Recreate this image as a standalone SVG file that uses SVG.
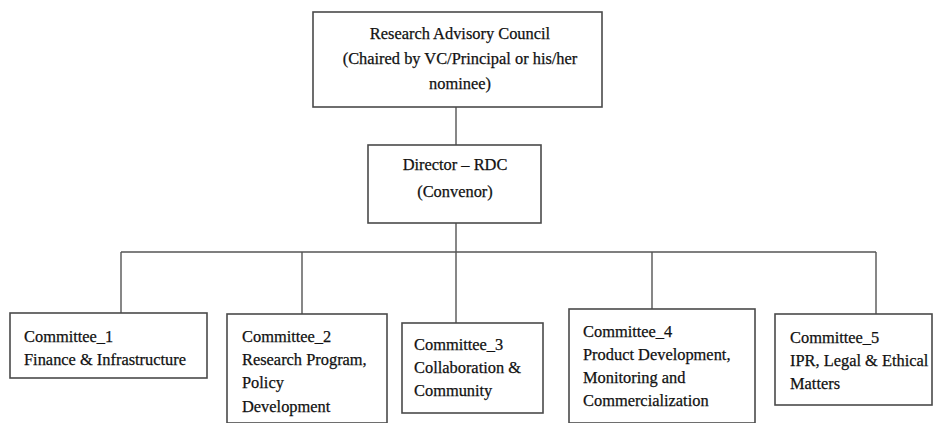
<svg xmlns="http://www.w3.org/2000/svg" width="933" height="423" viewBox="0 0 933 423">
<style>
.box{fill:#fff;stroke:#4a4a4a;stroke-width:1.6}
.ln{fill:none;stroke:#555;stroke-width:1.4}
text{font-family:"Liberation Serif","Times New Roman",serif;font-size:16.4px;fill:#111;stroke:#111;stroke-width:0.25}
.c{text-anchor:middle}
</style>
<rect width="933" height="423" fill="#fff"/>
<g id="connectors">
<path class="ln" d="M456 107V145M456 223V323M121 252H876M121 252V313M302 252V314M652 252V309M876 252V314"/>
</g>
<g id="council">
<rect class="box" x="313" y="12" width="289" height="95"/>
<text class="c" x="460" y="39">Research Advisory Council</text>
<text class="c" x="460" y="64">(Chaired by VC/Principal or his/her</text>
<text class="c" x="460" y="89">nominee)</text>
</g>
<g id="director">
<rect class="box" x="368" y="145" width="173" height="78"/>
<text class="c" x="455" y="170">Director – RDC</text>
<text class="c" x="455" y="197">(Convenor)</text>
</g>
<g id="committee1">
<rect class="box" x="10" y="313" width="197" height="65"/>
<text x="24" y="342">Committee_1</text>
<text x="24" y="365">Finance &amp; Infrastructure</text>
</g>
<g id="committee2">
<rect class="box" x="227" y="314" width="160" height="109"/>
<text x="242" y="342">Committee_2</text>
<text x="242" y="365">Research Program,</text>
<text x="242" y="388">Policy</text>
<text x="242" y="412">Development</text>
</g>
<g id="committee3">
<rect class="box" x="402" y="323" width="141" height="90"/>
<text x="414" y="350">Committee_3</text>
<text x="414" y="373">Collaboration &amp;</text>
<text x="414" y="396">Community</text>
</g>
<g id="committee4">
<rect class="box" x="569" y="309" width="186" height="114"/>
<text x="583" y="337">Committee_4</text>
<text x="583" y="360">Product Development,</text>
<text x="583" y="383">Monitoring and</text>
<text x="583" y="406">Commercialization</text>
</g>
<g id="committee5">
<rect class="box" x="775" y="314" width="157" height="91"/>
<text x="790" y="343">Committee_5</text>
<text x="790" y="366">IPR, Legal &amp; Ethical</text>
<text x="790" y="389">Matters</text>
</g>
</svg>
